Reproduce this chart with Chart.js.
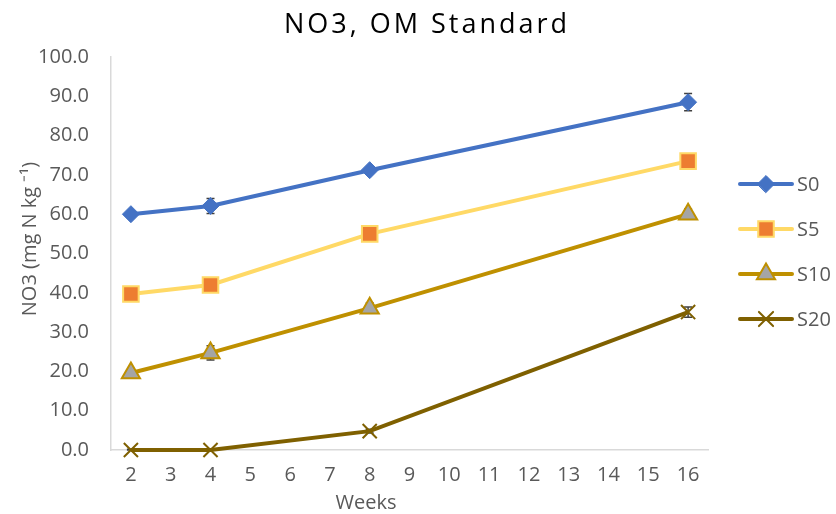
<!DOCTYPE html>
<html>
<head>
<meta charset="utf-8">
<script src="https://cdn.jsdelivr.net/npm/chart.js@4"></script>
<style>
  html, body { margin: 0; padding: 0; background: #fff; }
  #wrap { width: 836px; height: 514px; }
</style>
</head>
<body>
<div id="wrap"><canvas id="myChart"></canvas></div>
<script>
// weeks sampled and tick labels on the x axis
const weeks = [2, 4, 8, 16];
const xTicks = [2, 3, 4, 5, 6, 7, 8, 9, 10, 11, 12, 13, 14, 15, 16];

// NO3 values (mg N kg-1)
const s0 = [60.0, 62.1, 71.2, 88.5];
const s5 = [39.7, 42.0, 55.0, 73.5];
const s10 = [19.6, 24.7, 36.1, 60.0];
const s20 = [0.0, 0.0, 4.8, 35.1];

// error bars (+/-)
const errS0 = [0.4, 1.9, 0.5, 2.2];
const errS5 = [0.3, 0.4, 0.4, 0.5];
const errS10 = [0.8, 1.8, 1.3, 1.3];
const errS20 = [0.2, 0.2, 0.5, 1.3];

const seriesNames = ['S0', 'S5', 'S10', 'S20'];

var myChartObject = document.getElementById("myChart");
const FONT = "'Open Sans', 'Liberation Sans', sans-serif";
const GREY = '#595959';

function points(values) {
    return weeks.map((w, i) => ({ x: w, y: values[i] }));
}

const styles = [
    { line: '#4472C4', fill: '#4472C4', border: '#4472C4', shape: 'rectRot', radius: 8.5, bw: 1 },
    { line: '#FFD966', fill: '#ED7D31', border: '#FFD966', shape: 'rect', radius: 11, bw: 2 },
    { line: '#BF9000', fill: '#A5A5A5', border: '#BF9000', shape: 'triangle', radius: 10.5, bw: 2 },
    { line: '#7F6000', fill: '#7F6000', border: '#7F6000', shape: 'crossRot', radius: 10, bw: 2 }
];
const allValues = [s0, s5, s10, s20];
const allErrors = [errS0, errS5, errS10, errS20];

const extras = {
    id: 'extras',
    beforeDatasetsDraw(chart) {
        const ctx = chart.ctx;
        const xs = chart.scales.x, ys = chart.scales.y;
        ctx.save();
        ctx.strokeStyle = '#404040';
        ctx.lineWidth = 1.5;
        allValues.forEach((vals, s) => {
            vals.forEach((v, i) => {
                const e = allErrors[s][i];
                const px = xs.getPixelForValue(weeks[i]);
                const top = ys.getPixelForValue(v + e);
                const bot = ys.getPixelForValue(Math.max(0, v - e));
                ctx.beginPath();
                ctx.moveTo(px, top); ctx.lineTo(px, bot);
                ctx.moveTo(px - 4, top); ctx.lineTo(px + 4, top);
                ctx.moveTo(px - 4, bot); ctx.lineTo(px + 4, bot);
                ctx.stroke();
            });
        });
        ctx.restore();
    },
    afterDraw(chart) {
        const ctx = chart.ctx;
        ctx.save();
        // title
        ctx.fillStyle = '#000';
        ctx.font = '27px ' + FONT;
        ctx.textAlign = 'center';
        ctx.textBaseline = 'alphabetic';
        if ('letterSpacing' in ctx) ctx.letterSpacing = '3px';
        ctx.fillText('NO3, OM Standard', 427, 33);
        if ('letterSpacing' in ctx) ctx.letterSpacing = '0px';

        // axis titles
        ctx.fillStyle = GREY;
        ctx.font = '20px ' + FONT;
        ctx.textBaseline = 'middle';
        ctx.fillText('Weeks', 366, 503);
        ctx.save();
        ctx.translate(30, 239);
        ctx.rotate(-Math.PI / 2);
        ctx.fillText('NO3 (mg N kg \u207B\u00B9)', 0, 0);
        ctx.restore();

        // legend
        const legendY = [184, 229, 274, 319];
        styles.forEach((st, i) => {
            const y = legendY[i];
            ctx.strokeStyle = st.line;
            ctx.lineWidth = 4;
            ctx.lineCap = 'round';
            ctx.beginPath();
            ctx.moveTo(740, y); ctx.lineTo(792, y);
            ctx.stroke();
            ctx.fillStyle = st.fill;
            ctx.strokeStyle = st.border;
            ctx.lineWidth = st.bw;
            Chart.helpers.drawPoint(ctx, { pointStyle: st.shape, radius: st.radius, rotation: 0, borderWidth: st.bw }, 766, y);
            ctx.fillStyle = GREY;
            ctx.font = '20px ' + FONT;
            ctx.textAlign = 'left';
            ctx.fillText(seriesNames[i], 797, y + 1);
        });
        ctx.restore();
    }
};

var chart = new Chart(myChartObject, {
    type: 'line',
    data: {
        datasets: allValues.map((vals, i) => ({
            label: seriesNames[i],
            data: points(vals),
            borderColor: styles[i].line,
            backgroundColor: styles[i].fill,
            borderWidth: 4,
            pointStyle: styles[i].shape,
            pointRadius: styles[i].radius,
            pointBackgroundColor: styles[i].fill,
            pointBorderColor: styles[i].border,
            pointBorderWidth: styles[i].bw,
            tension: 0,
            clip: false
        }))
    },
    options: {
        responsive: true,
        maintainAspectRatio: false,
        animation: false,
        layout: { padding: { top: 57, right: 128, left: 0, bottom: 0 } },
        plugins: {
            legend: { display: false },
            title: { display: false },
            tooltip: { enabled: false }
        },
        scales: {
            x: {
                type: 'linear',
                min: 1.5,
                max: 16.5,
                afterBuildTicks: (scale) => { scale.ticks = xTicks.map(v => ({ value: v })); },
                afterFit: (scale) => { scale.height = 64; },
                grid: { display: false, drawTicks: false },
                border: { display: true, color: '#d9d9d9', width: 1.5 },
                ticks: { color: GREY, font: { family: FONT, size: 20 }, padding: 13, maxRotation: 0, autoSkip: false }
            },
            y: {
                min: 0,
                max: 100,
                afterFit: (scale) => { scale.width = 111; },
                grid: { display: false, drawTicks: false },
                border: { display: true, color: '#d9d9d9', width: 1.5 },
                ticks: { stepSize: 10, color: GREY, font: { family: FONT, size: 20 }, padding: 22,
                         callback: (v) => v.toFixed(1) }
            }
        }
    },
    plugins: [extras]
});
</script>
</body>
</html>
